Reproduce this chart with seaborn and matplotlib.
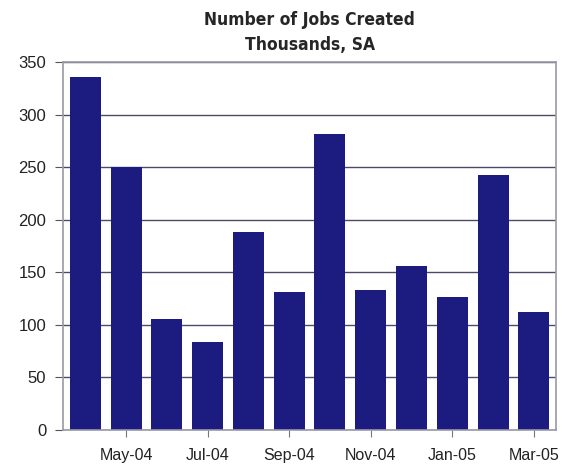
import matplotlib.pyplot as plt
import pandas as pd
import seaborn as sns

months = ["Apr-04", "May-04", "Jun-04", "Jul-04", "Aug-04", "Sep-04",
          "Oct-04", "Nov-04", "Dec-04", "Jan-05", "Feb-05", "Mar-05"]
jobs = [336, 250, 106, 84, 188, 131, 282, 133, 156, 127, 243, 112]
y_ticks = [0, 50, 100, 150, 200, 250, 300, 350]


def plot_jobs():
    df = pd.DataFrame({"month": months, "jobs": jobs})

    sns.set_style("white")
    plt.rcParams["font.family"] = ["Liberation Sans", "DejaVu Sans"]

    fig = plt.figure(figsize=(5.67, 4.70), dpi=100)
    ax = fig.add_axes([0.111, 0.085, 0.870, 0.783])

    sns.barplot(data=df, x="month", y="jobs", color="#1c1c80", saturation=1,
                width=0.76, linewidth=0, edgecolor="none", ax=ax)

    ax.set_ylim(0, 350)
    ax.set_xlim(-0.55, 11.55)
    ax.set_yticks(y_ticks)
    ax.set_yticklabels([str(v) for v in y_ticks], fontsize=12, color="#222222")
    ax.set_xticks(range(1, 12, 2))
    ax.set_xticklabels(months[1::2], fontsize=11.5, color="#222222")
    ax.set_xlabel("")
    ax.set_ylabel("")

    ax.yaxis.grid(True, color="#4a4a6a", linewidth=1)
    ax.set_axisbelow(True)
    for side in ax.spines.values():
        side.set_color("#9a9aa8")
        side.set_linewidth(1.2)

    ax.tick_params(axis="y", length=6, color="#555555", pad=6, left=True)
    ax.tick_params(axis="x", length=5, color="#777777", pad=8, bottom=True)

    title_font = dict(ha="center", va="center", fontsize=12.5,
                      fontweight="bold", fontstretch="condensed",
                      family=["DejaVu Sans"])
    fig.text(0.546, 0.957, "Number of Jobs Created", **title_font)
    fig.text(0.546, 0.905, "Thousands, SA", **title_font)

    fig.savefig("out.png", dpi=100)
    plt.close(fig)


if __name__ == "__main__":
    plot_jobs()
